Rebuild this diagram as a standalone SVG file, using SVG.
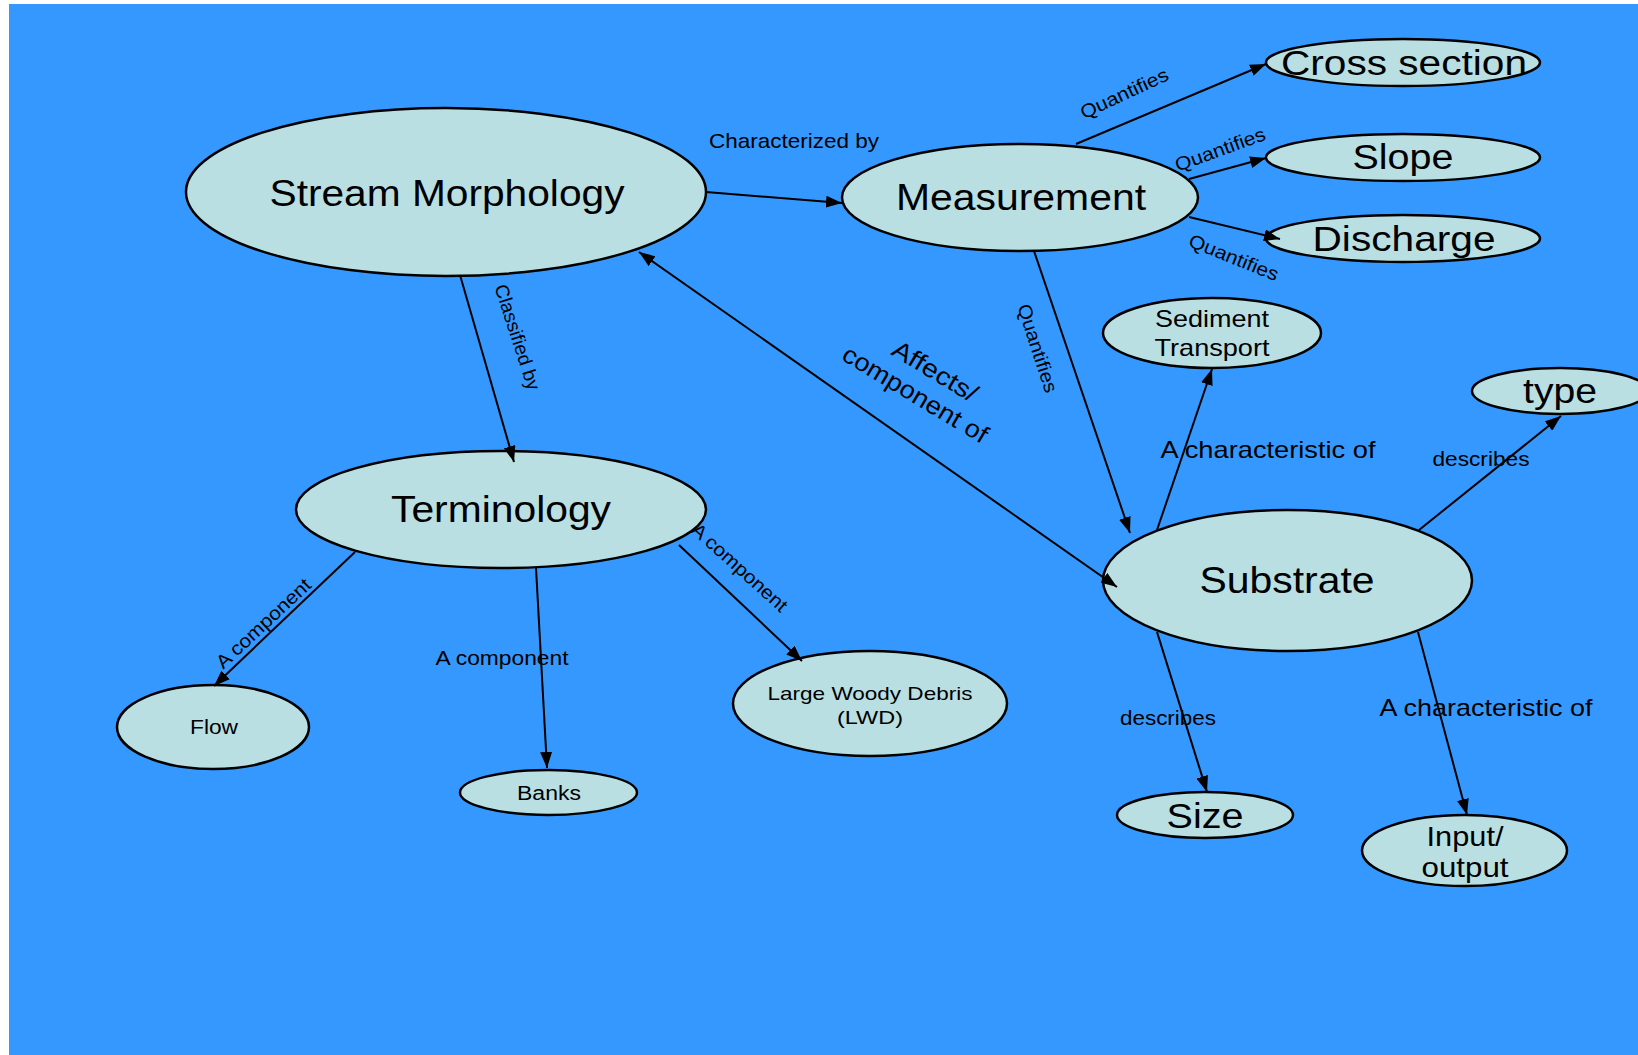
<svg xmlns="http://www.w3.org/2000/svg" width="1638" height="1055" viewBox="0 0 1638 1055">
<style>
.n{fill:#B9DFE3;stroke:#000;stroke-width:2.5}
.t{font-family:"Liberation Sans",Arial,Helvetica,sans-serif;fill:#000;text-anchor:middle}
.e{stroke:#000;stroke-width:2;fill:none;marker-end:url(#arr)}
</style>
<defs>
<marker id="arr" viewBox="0 0 16 12" refX="16" refY="6" markerWidth="16" markerHeight="12" markerUnits="userSpaceOnUse" orient="auto-start-reverse"><path d="M0,0 L16,6 L0,12 z" fill="#000"/></marker>
</defs>
<rect x="0" y="0" width="1638" height="1055" fill="#fff"/>
<rect x="9" y="4" width="1629" height="1051" fill="#3598FE"/>

<g id="stream-morphology"><ellipse class="n" cx="446" cy="192" rx="260" ry="84"/><text class="t" x="447" y="206" font-size="37" textLength="355" lengthAdjust="spacingAndGlyphs">Stream Morphology</text></g>
<g id="measurement"><ellipse class="n" cx="1020" cy="197.5" rx="178" ry="53.5"/><text class="t" x="1021" y="210" font-size="37" textLength="250" lengthAdjust="spacingAndGlyphs">Measurement</text></g>
<g id="cross-section"><ellipse class="n" cx="1403" cy="62.5" rx="137" ry="23.5"/><text class="t" x="1404" y="75" font-size="35" textLength="246" lengthAdjust="spacingAndGlyphs">Cross section</text></g>
<g id="slope"><ellipse class="n" cx="1403" cy="157.5" rx="137" ry="23.5"/><text class="t" x="1403" y="169" font-size="35" textLength="101" lengthAdjust="spacingAndGlyphs">Slope</text></g>
<g id="discharge"><ellipse class="n" cx="1403" cy="238.5" rx="137" ry="23.5"/><text class="t" x="1404" y="251" font-size="35" textLength="183" lengthAdjust="spacingAndGlyphs">Discharge</text></g>
<g id="terminology"><ellipse class="n" cx="501" cy="509.5" rx="205" ry="58.5"/><text class="t" x="501" y="522" font-size="37" textLength="220" lengthAdjust="spacingAndGlyphs">Terminology</text></g>
<g id="substrate"><ellipse class="n" cx="1287.5" cy="580.5" rx="184.5" ry="70.5"/><text class="t" x="1287" y="593" font-size="36" textLength="175" lengthAdjust="spacingAndGlyphs">Substrate</text></g>
<g id="sediment-transport"><ellipse class="n" cx="1212" cy="333" rx="109" ry="35"/><text class="t" x="1212" y="327" font-size="24" textLength="114" lengthAdjust="spacingAndGlyphs">Sediment</text><text class="t" x="1212" y="356" font-size="24" textLength="115" lengthAdjust="spacingAndGlyphs">Transport</text></g>
<g id="type"><ellipse class="n" cx="1560" cy="391" rx="88" ry="23"/><text class="t" x="1560" y="403" font-size="35" textLength="74" lengthAdjust="spacingAndGlyphs">type</text></g>
<g id="size"><ellipse class="n" cx="1205" cy="815" rx="88" ry="23"/><text class="t" x="1205" y="828" font-size="35" textLength="77" lengthAdjust="spacingAndGlyphs">Size</text></g>
<g id="input-output"><ellipse class="n" cx="1464.5" cy="850.5" rx="102.5" ry="35.5"/><text class="t" x="1465" y="846" font-size="28" textLength="77" lengthAdjust="spacingAndGlyphs">Input/</text><text class="t" x="1465" y="877" font-size="28" textLength="87" lengthAdjust="spacingAndGlyphs">output</text></g>
<g id="flow"><ellipse class="n" cx="213" cy="727" rx="96" ry="42"/><text class="t" x="214" y="734" font-size="20" textLength="48" lengthAdjust="spacingAndGlyphs">Flow</text></g>
<g id="banks"><ellipse class="n" cx="548.5" cy="792.5" rx="88.5" ry="22.5"/><text class="t" x="549" y="800" font-size="20" textLength="64" lengthAdjust="spacingAndGlyphs">Banks</text></g>
<g id="lwd"><ellipse class="n" cx="870" cy="703.5" rx="137" ry="52.5"/><text class="t" x="870" y="700" font-size="19" textLength="205" lengthAdjust="spacingAndGlyphs">Large Woody Debris</text><text class="t" x="870" y="724" font-size="19" textLength="66" lengthAdjust="spacingAndGlyphs">(LWD)</text></g>

<g id="connectors">
<line class="e" x1="706" y1="192" x2="842" y2="203"/>
<line class="e" x1="460" y1="275" x2="514" y2="462"/>
<line class="e" x1="1076" y1="144" x2="1266" y2="64"/>
<line class="e" x1="1189" y1="179" x2="1266" y2="158"/>
<line class="e" x1="1189" y1="217" x2="1280" y2="239"/>
<line class="e" x1="1034" y1="251" x2="1130" y2="533"/>
<line class="e" x1="639" y1="252" x2="1117" y2="587" style="marker-start:url(#arr)"/>
<line class="e" x1="355" y1="552" x2="214" y2="686"/>
<line class="e" x1="536" y1="568" x2="547" y2="768"/>
<line class="e" x1="679" y1="545" x2="802" y2="661"/>
<line class="e" x1="1157" y1="530" x2="1212" y2="369"/>
<line class="e" x1="1419" y1="530" x2="1561" y2="416"/>
<line class="e" x1="1157" y1="632" x2="1207" y2="792"/>
<line class="e" x1="1418" y1="632" x2="1467" y2="815"/>

<text class="t" x="794" y="148" font-size="21" textLength="170" lengthAdjust="spacingAndGlyphs">Characterized by</text>
<text class="t" transform="translate(518,337) rotate(72)" y="7" font-size="19" textLength="110" lengthAdjust="spacingAndGlyphs">Classified by</text>
<text class="t" transform="translate(1124,93) rotate(-25)" y="7" font-size="19" textLength="95" lengthAdjust="spacingAndGlyphs">Quantifies</text>
<text class="t" transform="translate(1220,149) rotate(-20)" y="7" font-size="19" textLength="95" lengthAdjust="spacingAndGlyphs">Quantifies</text>
<text class="t" transform="translate(1234,257) rotate(22)" y="7" font-size="19" textLength="95" lengthAdjust="spacingAndGlyphs">Quantifies</text>
<text class="t" transform="translate(1038,348) rotate(72)" y="7" font-size="19" textLength="92" lengthAdjust="spacingAndGlyphs">Quantifies</text>
<g transform="translate(925,382) rotate(31)">
<text class="t" x="3" y="-6" font-size="25" textLength="95" lengthAdjust="spacingAndGlyphs">Affects/</text>
<text class="t" x="-2" y="24" font-size="25" textLength="165" lengthAdjust="spacingAndGlyphs">component of</text>
</g>
<text class="t" transform="translate(263,623) rotate(-43)" y="7" font-size="19" textLength="122" lengthAdjust="spacingAndGlyphs">A component</text>
<text class="t" x="502" y="665" font-size="20" textLength="133" lengthAdjust="spacingAndGlyphs">A component</text>
<text class="t" transform="translate(740,567) rotate(42)" y="7" font-size="19" textLength="122" lengthAdjust="spacingAndGlyphs">A component</text>
<text class="t" x="1268" y="458" font-size="24" textLength="215" lengthAdjust="spacingAndGlyphs">A characteristic of</text>
<text class="t" x="1481" y="466" font-size="20" textLength="97" lengthAdjust="spacingAndGlyphs">describes</text>
<text class="t" x="1168" y="725" font-size="20" textLength="96" lengthAdjust="spacingAndGlyphs">describes</text>
<text class="t" x="1486" y="716" font-size="24" textLength="213" lengthAdjust="spacingAndGlyphs">A characteristic of</text>
</g>
</svg>
